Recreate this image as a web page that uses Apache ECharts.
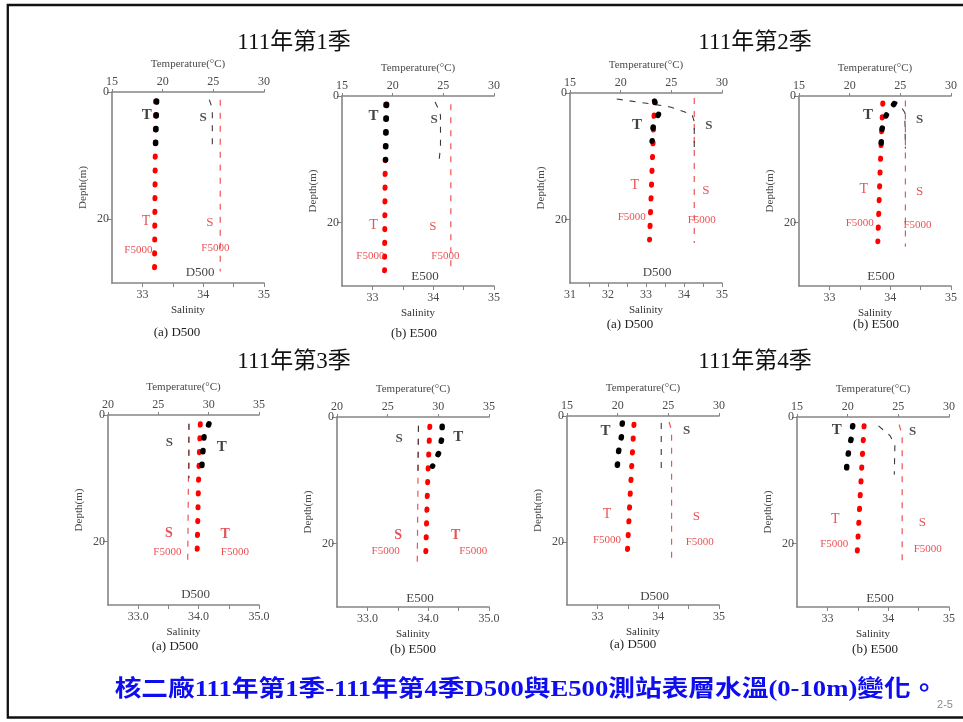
<!DOCTYPE html>
<html>
<head>
<meta charset="utf-8">
<title>核二廠 D500 / E500 表層水溫</title>
<script src="https://cdn.jsdelivr.net/npm/echarts@6/dist/echarts.min.js"></script>
<style>
  html, body { margin: 0; padding: 0; background: #fff; }
  #main { width: 963px; height: 722px; }
</style>
</head>
<body>
<div id="main"></div>
<script>
// ---------- profile data: [value, depth (m)] ----------
// T = temperature (°C), S = salinity; *_F = F5000 profile
// 111年第1季
const q1D500_T  = [[19.4, 1.4], [19.35, 5.0], [19.3, 8.5]];
const q1D500_TF = [[19.3, 1.4], [19.25, 14.0], [19.2, 27.9]];
const q1D500_S  = [[34.1, 1.2], [34.15, 2.6], [34.15, 8.7]];
const q1D500_SF = [[34.28, 1.2], [34.28, 28.2]];

const q1E500_T  = [[19.4, 1.3], [19.35, 5.5], [19.3, 10.1]];
const q1E500_TF = [[19.3, 1.3], [19.25, 14.0], [19.2, 27.6]];
const q1E500_S  = [[34.03, 0.95], [34.1, 2.3], [34.12, 3.1], [34.12, 8.0], [34.1, 9.9]];
const q1E500_SF = [[34.29, 1.3], [34.29, 28.0]];

// 111年第2季
const q2D500_T  = [[23.35, 1.3], [23.75, 3.3], [23.2, 5.4], [23.1, 7.6]];
const q2D500_TF = [[23.35, 1.3], [23.1, 12.0], [22.85, 23.2]];
const q2D500_S  = [[32.23, 0.95], [33.1, 1.7], [33.64, 2.2], [34.21, 3.4], [34.27, 4.5], [34.27, 8.9]];
const q2D500_SF = [[34.27, 0.8], [34.27, 23.7]];

const q2E500_T  = [[24.4, 1.2], [23.6, 3.05], [23.2, 5.15], [23.1, 7.6]];
const q2E500_TF = [[23.27, 1.1], [23.0, 12.0], [22.78, 23.0]];
const q2E500_S  = [[34.05, 1.4], [34.1, 0.95], [34.17, 1.6], [34.24, 2.6], [34.25, 8.3]];
const q2E500_SF = [[34.25, 0.7], [34.25, 23.8]];

// 111年第3季
const q3D500_T  = [[30.03, 1.4], [29.54, 3.4], [29.44, 5.5], [29.34, 7.7], [29.27, 9.8]];
const q3D500_TF = [[29.17, 1.4], [29.0, 10.0], [28.84, 22.9]];
const q3D500_S  = [[33.84, 1.4], [33.84, 10.0]];
const q3D500_SF = [[33.84, 1.4], [33.82, 23.0]];

const q3E500_T  = [[30.38, 1.47], [30.32, 3.57], [30.05, 5.66], [29.43, 7.76]];
const q3E500_TF = [[29.16, 1.47], [28.95, 10.0], [28.74, 22.8]];
const q3E500_S  = [[33.84, 1.4], [33.83, 9.0]];
const q3E500_SF = [[33.84, 1.4], [33.82, 23.0]];

// 111年第4季
const q4D500_T  = [[20.46, 1.1], [20.36, 3.4], [20.1, 5.5], [19.97, 7.8]];
const q4D500_TF = [[21.61, 1.3], [21.25, 12.0], [20.92, 22.9]];
const q4D500_S  = [[34.05, 1.1], [34.05, 8.3]];
const q4D500_SF = [[34.18, 0.95], [34.22, 2.3], [34.22, 22.9]];

const q4E500_T  = [[20.5, 1.37], [20.34, 3.47], [20.08, 5.58], [19.91, 7.79], [19.85, 9.9]];
const q4E500_TF = [[21.62, 1.37], [21.25, 12.0], [20.9, 22.8]];
const q4E500_S  = [[33.84, 1.4], [34.03, 2.95], [34.11, 4.4], [34.1, 9.1]];
const q4E500_SF = [[34.18, 1.2], [34.23, 2.8], [34.23, 22.8]];

// ---------- axis ranges and tick labels ----------
const seasonTitles = ['111年第1季', '111年第2季', '111年第3季', '111年第4季'];
const panelCaptions = ['(a) D500', '(b) E500', '(a) D500', '(b) E500', '(a) D500', '(b) E500', '(a) D500', '(b) E500'];
const stationNames = ['D500', 'E500', 'D500', 'E500', 'D500', 'E500', 'D500', 'E500'];
const tempMins = [15, 15, 15, 15, 20, 20, 15, 15];
const salMins  = [32.5, 32.5, 31, 32.5, 32.5, 32.5, 32.5, 32.5];
const salMax = 35;
const salDecimals = [0, 0, 0, 0, 1, 1, 0, 0];
const depthTicks = [0, 20];

// ---------- layout ----------
const grids = [
  [112, 92, 152, 191], [342, 96, 152, 190], [570, 93, 152, 190], [799, 96, 152, 190],
  [108, 415, 151, 190], [337, 417, 152, 190], [567, 416, 152, 189], [797, 417, 152, 190]
];
const titleCenters = [[294, 43], [755, 43], [294, 362], [755, 362]];
const captionCenters = [[177, 333], [414, 334], [630, 325], [876, 325],
                        [175, 647], [413, 650], [633, 645], [875, 650]];
// annotation text placed in (temperature, depth) coordinates
const notes = [
  [['T', 18.44, 3.65, 'kT'], ['S', 24.0, 4.0, 'kS'], ['T', 18.37, 20.35, 'rT'], ['S', 24.66, 20.5, 'rS'], ['F5000', 17.6, 24.8, 'rF'], ['F5000', 25.2, 24.5, 'rF'], [null, 23.7, 28.4, 'st']],
  [['T', 18.1, 3.2, 'kT'], ['S', 24.1, 3.7, 'kS'], ['T', 18.1, 20.4, 'rT'], ['S', 23.96, 20.6, 'rS'], ['F5000', 17.8, 25.3, 'rF'], ['F5000', 25.2, 25.3, 'rF'], [null, 23.2, 28.5, 'st']],
  [['T', 21.6, 5.0, 'kT'], ['S', 28.7, 5.1, 'kS'], ['T', 21.4, 14.5, 'rT'], ['S', 28.4, 15.4, 'rS'], ['F5000', 21.1, 19.6, 'rF'], ['F5000', 28.0, 20.0, 'rF'], [null, 23.6, 28.4, 'st']],
  [['T', 21.8, 3.05, 'kT'], ['S', 26.9, 3.8, 'kS'], ['T', 21.4, 14.8, 'rT'], ['S', 26.9, 15.1, 'rS'], ['F5000', 21.0, 20.1, 'rF'], ['F5000', 26.7, 20.4, 'rF'], [null, 23.1, 28.5, 'st']],
  [['S', 26.1, 4.4, 'kS'], ['T', 31.3, 5.0, 'kT'], ['S', 26.06, 18.7, 'rSb'], ['T', 31.65, 18.8, 'rTb'], ['F5000', 25.9, 21.6, 'rF'], ['F5000', 32.6, 21.6, 'rF'], [null, 28.7, 28.4, 'st']],
  [['S', 26.13, 3.4, 'kS'], ['T', 31.97, 3.25, 'kT'], ['S', 26.03, 18.7, 'rSb'], ['T', 31.7, 18.7, 'rTb'], ['F5000', 24.8, 21.2, 'rF'], ['F5000', 33.45, 21.2, 'rF'], [null, 28.2, 28.6, 'st']],
  [['T', 18.8, 2.4, 'kT'], ['S', 26.8, 2.4, 'kS'], ['T', 18.95, 15.6, 'rT'], ['S', 27.76, 16.0, 'rS'], ['F5000', 18.95, 19.7, 'rF'], ['F5000', 28.1, 20.0, 'rF'], [null, 23.65, 28.6, 'st']],
  [['T', 18.93, 2.0, 'kT'], ['S', 26.4, 2.26, 'kS'], ['T', 18.77, 16.2, 'rT'], ['S', 27.38, 16.7, 'rS'], ['F5000', 18.67, 20.05, 'rF'], ['F5000', 27.9, 20.8, 'rF'], [null, 23.19, 28.6, 'st']]
];

const profiles = [
  [q1D500_T, q1D500_TF, q1D500_S, q1D500_SF],
  [q1E500_T, q1E500_TF, q1E500_S, q1E500_SF],
  [q2D500_T, q2D500_TF, q2D500_S, q2D500_SF],
  [q2E500_T, q2E500_TF, q2E500_S, q2E500_SF],
  [q3D500_T, q3D500_TF, q3D500_S, q3D500_SF],
  [q3E500_T, q3E500_TF, q3E500_S, q3E500_SF],
  [q4D500_T, q4D500_TF, q4D500_S, q4D500_SF],
  [q4E500_T, q4E500_TF, q4E500_S, q4E500_SF]
];

// ---------- styles ----------
const SERIF = '"Liberation Serif", "DejaVu Serif", serif';
const CJK = '"Liberation Serif", "Noto Sans CJK TC", serif';
const AXIS_GRAY = '#858585';
const LABEL_GRAY = '#4a4a4a';
const RED = '#ff0000';
const RED_TEXT = '#e3262a';
const noteStyles = {
  kT:  { color: '#111', fontSize: 15, fontWeight: 'bold' },
  kS:  { color: '#222', fontSize: 13, fontWeight: 'bold' },
  rT:  { color: RED_TEXT, fontSize: 14, fontWeight: 'normal' },
  rS:  { color: RED_TEXT, fontSize: 13, fontWeight: 'normal' },
  rTb: { color: RED_TEXT, fontSize: 14, fontWeight: 'bold' },
  rSb: { color: RED_TEXT, fontSize: 14, fontWeight: 'bold' },
  rF:  { color: RED_TEXT, fontSize: 11, fontWeight: 'normal' },
  st:  { color: '#111', fontSize: 13, fontWeight: 'normal' }
};

function range(a, b, step) {
  const out = [];
  for (let v = a; v <= b + 1e-9; v += step) out.push(Math.round(v * 100) / 100);
  return out;
}

const gridOpt = [], xAxes = [], yAxes = [], series = [];

grids.forEach((g, i) => {
  gridOpt.push({ left: g[0], top: g[1], width: g[2], height: g[3], containLabel: false });
  const tMin = tempMins[i];
  const sMin = salMins[i];
  const dec = salDecimals[i];

  // temperature axis along the top
  xAxes.push({
    type: 'value', gridIndex: i, position: 'top',
    min: tMin, max: tMin + 15, interval: 5,
    name: 'Temperature(°C)', nameLocation: 'middle', nameGap: 22,
    nameTextStyle: { fontFamily: SERIF, fontSize: 11, color: LABEL_GRAY },
    axisLine: { show: true, lineStyle: { color: AXIS_GRAY, width: 1.6 } },
    axisTick: { show: true, length: 3, lineStyle: { color: AXIS_GRAY } },
    axisLabel: { fontFamily: SERIF, fontSize: 12, color: LABEL_GRAY, margin: 4 },
    splitLine: { show: false }
  });
  // salinity axis along the bottom
  xAxes.push({
    type: 'value', gridIndex: i, position: 'bottom',
    min: sMin, max: salMax, interval: 0.5,
    name: 'Salinity', nameLocation: 'middle', nameGap: 22,
    nameTextStyle: { fontFamily: SERIF, fontSize: 11, color: '#333' },
    axisLine: { show: true, onZero: false, lineStyle: { color: AXIS_GRAY, width: 1.6 } },
    axisTick: { show: true, length: 4, lineStyle: { color: AXIS_GRAY },
                customValues: range(sMin + 0.5, salMax, 0.5) },
    axisLabel: { fontFamily: SERIF, fontSize: 12, color: LABEL_GRAY, margin: 6,
                 customValues: range(Math.ceil(sMin), salMax, 1),
                 formatter: v => Number(v).toFixed(dec) },
    splitLine: { show: false }
  });
  // depth axis, increasing downward
  yAxes.push({
    type: 'value', gridIndex: i, inverse: true, min: 0, max: 30,
    name: 'Depth(m)', nameLocation: 'middle', nameGap: 23, nameRotate: 90,
    nameTextStyle: { fontFamily: SERIF, fontSize: 11, color: LABEL_GRAY },
    axisLine: { show: true, onZero: false, lineStyle: { color: AXIS_GRAY, width: 1.6 } },
    axisTick: { show: true, length: 5, lineStyle: { color: AXIS_GRAY }, customValues: depthTicks },
    axisLabel: { fontFamily: SERIF, fontSize: 12, color: LABEL_GRAY, margin: 3, customValues: depthTicks },
    splitLine: { show: false }
  });

  const tAx = 2 * i, sAx = 2 * i + 1;
  const [pT, pTF, pS, pSF] = profiles[i];
  const dotPeriod = 13.8;

  series.push({
    type: 'line', xAxisIndex: sAx, yAxisIndex: i, data: pSF, symbol: 'none', silent: true,
    lineStyle: { color: '#ee5252', width: 1.2, type: [6, 7] }, z: 2
  });
  series.push({
    type: 'line', xAxisIndex: sAx, yAxisIndex: i, data: pS, symbol: 'none', silent: true,
    lineStyle: { color: '#3a3a3a', width: 1.1, type: [6, 7] }, z: 3
  });
  series.push({
    type: 'line', xAxisIndex: tAx, yAxisIndex: i, data: pTF, symbol: 'none', silent: true,
    lineStyle: { color: RED, width: 5, type: [1.2, dotPeriod - 1.2], cap: 'round' }, z: 4
  });
  series.push({
    type: 'line', xAxisIndex: tAx, yAxisIndex: i, data: pT, symbol: 'none', silent: true,
    lineStyle: { color: '#000', width: 5.5, type: [1.2, dotPeriod - 1.2], cap: 'round' }, z: 5
  });

  // text annotations
  series.push({
    type: 'scatter', xAxisIndex: tAx, yAxisIndex: i, symbolSize: 1, silent: true, z: 6,
    itemStyle: { color: 'rgba(0,0,0,0)' },
    data: notes[i].map(n => ({
      value: [n[1], n[2]],
      label: Object.assign({
        show: true, position: 'inside', fontFamily: SERIF,
        formatter: n[0] === null ? stationNames[i] : n[0]
      }, noteStyles[n[3]])
    }))
  });
});

// titles, captions, frame
const graphics = [
  { type: 'rect', shape: { x: 7.8, y: 5, width: 1000, height: 712.5 },
    style: { fill: 'none', stroke: '#111', lineWidth: 2.3 }, silent: true }
];
seasonTitles.forEach((t, k) => {
  graphics.push({
    type: 'text', x: titleCenters[k][0], y: titleCenters[k][1],
    style: { text: t, fontFamily: CJK, fontSize: 23, fill: '#111', align: 'center', verticalAlign: 'middle' }
  });
});
panelCaptions.forEach((c, i) => {
  graphics.push({
    type: 'text', x: captionCenters[i][0], y: captionCenters[i][1],
    style: { text: c, fontFamily: SERIF, fontSize: 13, fill: '#222', align: 'center', verticalAlign: 'middle' }
  });
});
graphics.push({
  type: 'text', x: 526, y: 690, scaleX: 1.16, scaleY: 1,
  style: { text: '核二廠111年第1季-111年第4季D500與E500測站表層水溫(0-10m)變化。',
           fontFamily: CJK, fontSize: 23, fontWeight: 'bold', fill: '#0d0df0',
           align: 'center', verticalAlign: 'middle' }
});
graphics.push({
  type: 'text', x: 945, y: 705,
  style: { text: '2-5', fontFamily: '"Liberation Sans", sans-serif', fontSize: 11, fill: '#8a8a8a',
           align: 'center', verticalAlign: 'middle' }
});

const chart = echarts.init(document.getElementById('main'), null, { renderer: 'canvas' });
chart.setOption({
  animation: false,
  backgroundColor: '#ffffff',
  grid: gridOpt,
  xAxis: xAxes,
  yAxis: yAxes,
  series: series,
  graphic: graphics
});
</script>
</body>
</html>
